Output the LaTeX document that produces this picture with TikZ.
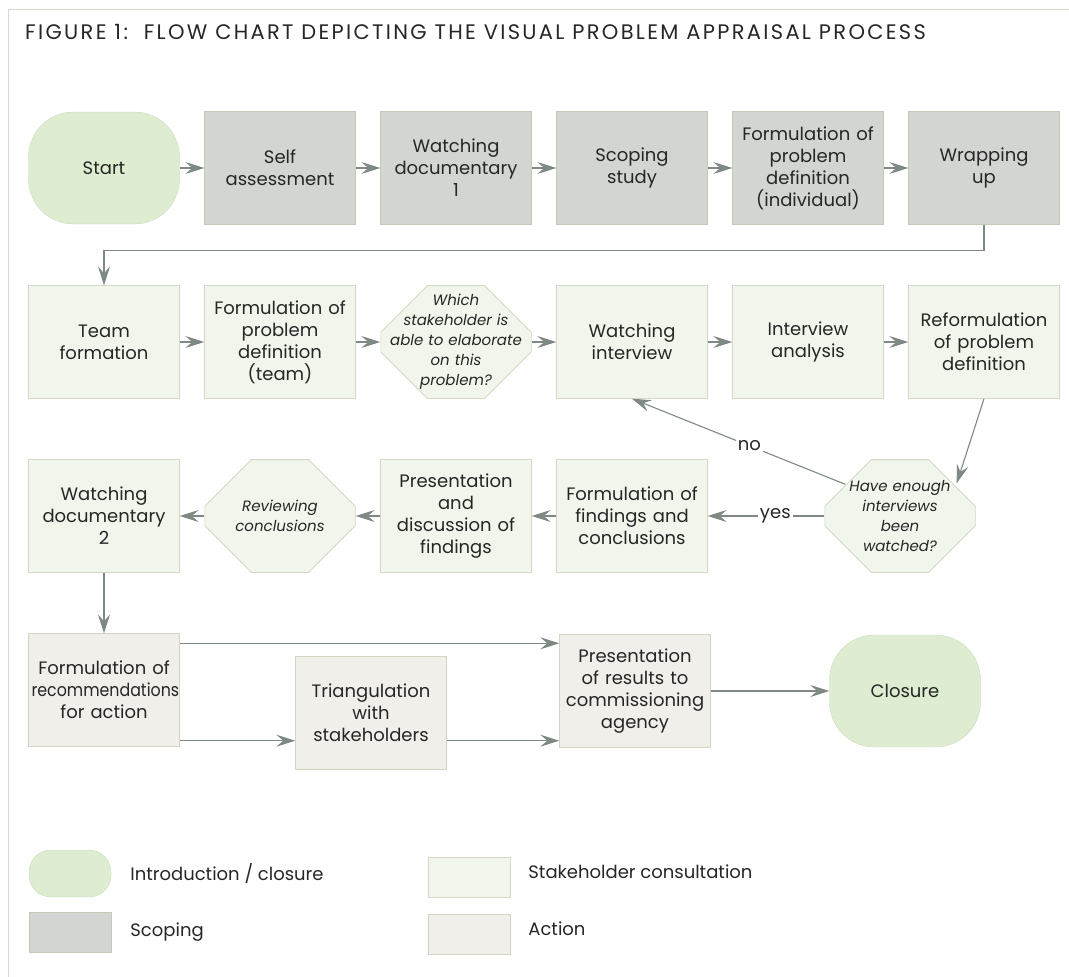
\documentclass[tikz,border=0pt]{standalone}
\usepackage{fontspec}
\setmainfont{Poppins}
\usetikzlibrary{arrows.meta}
\definecolor{startFill}{HTML}{DEEDD1}
\definecolor{startLine}{HTML}{CADABC}
\definecolor{scopeFill}{HTML}{D2D5D2}
\definecolor{scopeLine}{HTML}{C6C9B5}
\definecolor{consultFill}{HTML}{F1F6EC}
\definecolor{consultLine}{HTML}{D5D8C4}
\definecolor{actionFill}{HTML}{F0EFEA}
\definecolor{actionLine}{HTML}{D5D4C2}
\definecolor{arrowGray}{HTML}{7E8983}
\definecolor{frameLine}{HTML}{D9D9D0}
\definecolor{textDark}{HTML}{262626}
\newcommand{\fBoxFont}{\fontsize{18}{22}\selectfont}
\newcommand{\fCheckFont}{\fontsize{15}{20}\selectfont\itshape}
\tikzstyle{fStartStop} = [rectangle, rounded corners=45pt, minimum width=151pt, minimum height=112pt, text centered, draw=startLine, fill=startFill, text=textDark, font=\fBoxFont]
\tikzstyle{fScope} = [rectangle, minimum width=151pt, minimum height=113pt, text width=145pt, inner sep=3pt, align=center, draw=scopeLine, fill=scopeFill, text=textDark, font=\fBoxFont]
\tikzstyle{fConsult} = [fScope, draw=consultLine, fill=consultFill]
\tikzstyle{fAction} = [fScope, draw=actionLine, fill=actionFill]
\tikzstyle{fCheck} = [rectangle, minimum width=151pt, minimum height=113pt, text width=145pt, inner sep=3pt, align=center, fill=white, text=textDark, font=\fCheckFont,
    path picture={\draw [fill=consultFill, draw=consultLine, line width=1pt]
        ([xshift=47pt]path picture bounding box.north west) -- ([xshift=-47pt]path picture bounding box.north east)
        -- ([yshift=-47pt]path picture bounding box.north east) -- ([yshift=47pt]path picture bounding box.south east)
        -- ([xshift=-47pt]path picture bounding box.south east) -- ([xshift=47pt]path picture bounding box.south west)
        -- ([yshift=47pt]path picture bounding box.south west) -- ([yshift=-47pt]path picture bounding box.north west) -- cycle;}]
\tikzstyle{fLabel} = [fill=white, inner sep=2pt, text=textDark, font=\fBoxFont]
\tikzstyle{fLegendBox} = [rectangle, minimum width=82pt, minimum height=40pt, inner sep=0pt]
\tikzstyle{fLegendText} = [anchor=west, inner sep=0pt, text=textDark, font=\fontsize{18}{22}\selectfont]
\tikzstyle{fArrow} = [line width=1.1pt, draw=arrowGray, -{Stealth[length=19pt, width=12pt, inset=7pt, fill=arrowGray]}]

\begin{document}
\begin{tikzpicture}[x=1pt, y=-1pt, node distance=176pt]
    \useasboundingbox (0,0) rectangle (1069,977);
    \draw [frameLine, line width=1pt] (8,977) -- (8,9) -- (1069,9);
    \node (title) [anchor=base west, inner sep=0pt, text=textDark, font=\fontsize{21}{24}\selectfont\addfontfeature{LetterSpace=11}] at (25,39) {FIGURE 1:~~FLOW CHART DEPICTING THE VISUAL PROBLEM APPRAISAL PROCESS};

    % scoping row
    \node (start) [fStartStop] at (104,168) {Start};
    \node (selfAssess) [fScope, right of=start] {Self\\assessment};
    \node (watchDoc1) [fScope, right of=selfAssess] {Watching\\documentary\\1};
    \node (scoping) [fScope, right of=watchDoc1] {Scoping\\study};
    \node (formIndiv) [fScope, right of=scoping] {Formulation of\\problem\\definition\\(individual)};
    \node (wrapUp) [fScope, right of=formIndiv] {Wrapping\\up};

    % consultation rows
    \node (team) [fConsult, below of=start, yshift=2pt] {Team\\formation};
    \node (formTeam) [fConsult, right of=team] {Formulation of\\problem\\definition\\(team)};
    \node (whichStake) [fCheck, right of=formTeam] {Which\\stakeholder is\\able to elaborate\\on this\\problem?};
    \node (watchInt) [fConsult, right of=whichStake] {Watching\\interview};
    \node (intAnalysis) [fConsult, right of=watchInt] {Interview\\analysis};
    \node (reform) [fConsult, right of=intAnalysis] {Reformulation\\of problem\\definition};

    \node (watchDoc2) [fConsult, below of=team, yshift=2pt] {Watching\\documentary\\2};
    \node (review) [fCheck, right of=watchDoc2] {Reviewing\\conclusions};
    \node (presDisc) [fConsult, right of=review] {Presentation\\and\\discussion of\\findings};
    \node (findings) [fConsult, right of=presDisc] {Formulation of\\findings and\\conclusions};
    \node (enough) [fCheck, right of=findings, xshift=92pt] {Have enough\\interviews\\been\\watched?};

    % action row
    \node (recs) [fAction, below of=watchDoc2, yshift=2pt] {Formulation of\\\scalebox{0.88}[1]{recommendations}\\for action};
    \node (triang) [fAction, right of=recs, xshift=91pt, yshift=-22.5pt] {Triangulation\\with\\stakeholders};
    \node (presResults) [fAction, right of=triang, xshift=88pt, yshift=21.5pt] {Presentation\\of results to\\commissioning\\agency};
    \node (closure) [fStartStop, right of=presResults, xshift=94pt] {Closure};

    \draw [fArrow] (start) -- (selfAssess);
    \draw [fArrow] (selfAssess) -- (watchDoc1);
    \draw [fArrow] (watchDoc1) -- (scoping);
    \draw [fArrow] (scoping) -- (formIndiv);
    \draw [fArrow] (formIndiv) -- (wrapUp);
    \draw [fArrow] (wrapUp.south) -- ++(0,26) -| (team.north);
    \draw [fArrow] (team) -- (formTeam);
    \draw [fArrow] (formTeam) -- (whichStake);
    \draw [fArrow] (whichStake) -- (watchInt);
    \draw [fArrow] (watchInt) -- (intAnalysis);
    \draw [fArrow] (intAnalysis) -- (reform);
    \draw [fArrow] (reform.south) -- ([xshift=-19pt, yshift=-24pt]enough.north east);
    \draw [fArrow] ([xshift=21pt, yshift=-25pt]enough.north west) -- node [fLabel, pos=0.45] {no} (watchInt.south);
    \draw [fArrow] (enough.west) -- node [fLabel, pos=0.42] {yes} (findings.east);
    \draw [fArrow] (findings) -- (presDisc);
    \draw [fArrow] (presDisc) -- (review);
    \draw [fArrow] (review) -- (watchDoc2);
    \draw [fArrow] (watchDoc2) -- (recs);
    \coordinate (upperLane) at ([yshift=-10pt]recs.north east);
    \coordinate (lowerLane) at ([yshift=6pt]recs.south east);
    \draw [fArrow] (upperLane) -- (upperLane -| presResults.west);
    \draw [fArrow] (lowerLane) -- (lowerLane -| triang.west);
    \draw [fArrow] (lowerLane -| triang.east) -- (lowerLane -| presResults.west);
    \draw [fArrow] (presResults) -- (closure);

    % legend
    \node (legIntro) [fLegendBox, rounded corners=22pt, minimum height=47pt, draw=startLine, fill=startFill] at (70,873.5) {};
    \node (legIntroText) [fLegendText] at ([xshift=19pt]legIntro.east) {Introduction / closure};
    \node (legScope) [fLegendBox, draw=scopeLine, fill=scopeFill] at (70,932) {};
    \node (legScopeText) [fLegendText] at ([xshift=19pt]legScope.east) {Scoping};
    \node (legConsult) [fLegendBox, draw=consultLine, fill=consultFill] at (469,877) {};
    \node (legConsultText) [fLegendText, yshift=5pt] at ([xshift=18pt]legConsult.east) {Stakeholder consultation};
    \node (legAction) [fLegendBox, draw=actionLine, fill=actionFill] at (469,934) {};
    \node (legActionText) [fLegendText, yshift=5pt] at ([xshift=18pt]legAction.east) {Action};
\end{tikzpicture}
\end{document}
